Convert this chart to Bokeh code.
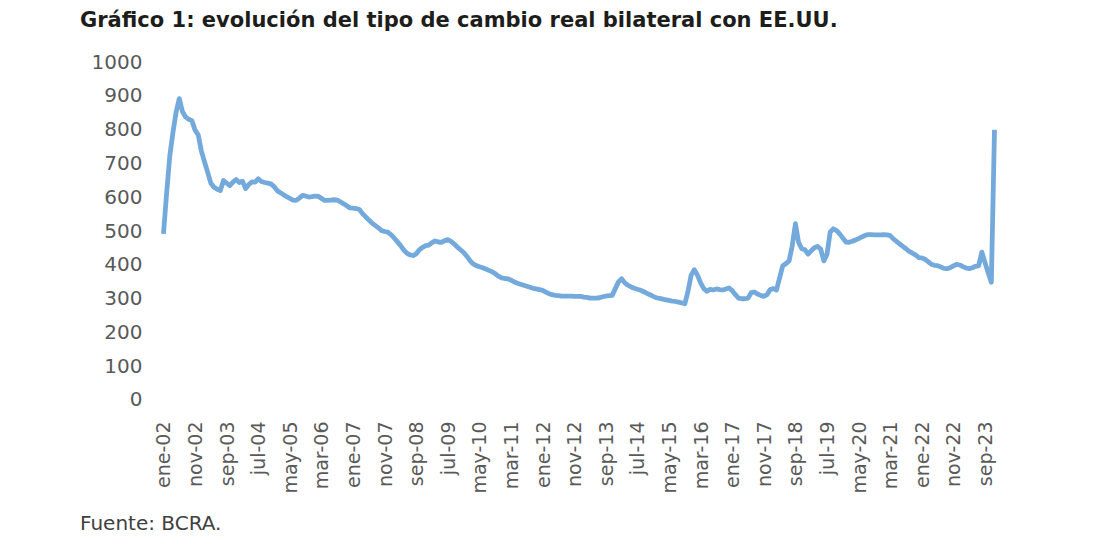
import math

from bokeh.embed import file_html
from bokeh.layouts import column
from bokeh.models import Div, FixedTicker, Range1d
from bokeh.plotting import figure
from bokeh.resources import INLINE

# tipo de cambio real bilateral con EE.UU., mensual ene-02 .. dic-23
tcrb_2002 = [490, 610, 720, 790, 850, 890, 852, 836, 829, 825, 797, 783]
tcrb_2003 = [735, 703, 672, 640, 628, 622, 618, 648, 640, 633, 643, 651]
tcrb_2004 = [642, 646, 624, 636, 644, 643, 653, 645, 642, 640, 638, 630]
tcrb_2005 = [618, 612, 606, 600, 595, 590, 589, 596, 604, 602, 599, 600]
tcrb_2006 = [602, 601, 595, 589, 589, 590, 591, 590, 585, 579, 573, 567]
tcrb_2007 = [566, 565, 562, 550, 540, 531, 522, 515, 508, 500, 497, 495]
tcrb_2008 = [488, 478, 467, 456, 443, 433, 428, 426, 431, 443, 450, 455]
tcrb_2009 = [457, 464, 469, 466, 465, 470, 473, 468, 460, 451, 443, 435]
tcrb_2010 = [424, 411, 401, 396, 393, 390, 386, 382, 378, 372, 365, 360]
tcrb_2011 = [358, 357, 353, 348, 344, 341, 338, 335, 332, 329, 327, 325]
tcrb_2012 = [323, 318, 313, 310, 308, 307, 306, 306, 306, 306, 305, 305]
tcrb_2013 = [305, 303, 302, 300, 300, 300, 301, 304, 306, 307, 308, 328]
tcrb_2014 = [348, 357, 345, 338, 333, 329, 326, 323, 319, 314, 310, 305]
tcrb_2015 = [301, 299, 297, 295, 293, 291, 290, 288, 286, 283, 320, 368]
tcrb_2016 = [384, 368, 345, 328, 320, 326, 324, 327, 325, 324, 327, 330]
tcrb_2017 = [322, 310, 300, 298, 298, 300, 316, 318, 312, 308, 305, 310]
tcrb_2018 = [325, 328, 324, 360, 396, 402, 410, 455, 520, 465, 446, 443]
tcrb_2019 = [430, 440, 449, 453, 445, 410, 430, 495, 505, 500, 490, 478]
tcrb_2020 = [466, 465, 468, 472, 476, 481, 485, 488, 488, 487, 487, 487]
tcrb_2021 = [488, 487, 485, 475, 468, 460, 453, 446, 438, 433, 428, 420]
tcrb_2022 = [419, 415, 408, 400, 397, 396, 392, 388, 387, 390, 395, 400]
tcrb_2023 = [398, 393, 389, 387, 390, 394, 396, 436, 405, 375, 347, 798]

# etiquetas del eje x, una cada 10 meses
tick_labels = ["ene-02", "nov-02", "sep-03", "jul-04", "may-05", "mar-06",
               "ene-07", "nov-07", "sep-08", "jul-09", "may-10", "mar-11",
               "ene-12", "nov-12", "sep-13", "jul-14", "may-15", "mar-16",
               "ene-17", "nov-17", "sep-18", "jul-19", "may-20", "mar-21",
               "ene-22", "nov-22", "sep-23"]
y_ticks = [0, 100, 200, 300, 400, 500, 600, 700, 800, 900, 1000]

tcrb = (tcrb_2002 + tcrb_2003 + tcrb_2004 + tcrb_2005 + tcrb_2006 + tcrb_2007
        + tcrb_2008 + tcrb_2009 + tcrb_2010 + tcrb_2011 + tcrb_2012 + tcrb_2013
        + tcrb_2014 + tcrb_2015 + tcrb_2016 + tcrb_2017 + tcrb_2018 + tcrb_2019
        + tcrb_2020 + tcrb_2021 + tcrb_2022 + tcrb_2023)
months = list(range(len(tcrb)))
x_ticks = list(range(0, 10 * len(tick_labels), 10))

FONT = "DejaVu Sans"
GREY = "#595959"

p = figure(width=1083, height=465, output_backend="svg", toolbar_location=None,
           x_range=Range1d(-4.1, 264.9), y_range=Range1d(-17.8, 1017.8),
           min_border_left=150, min_border_right=83,
           min_border_top=15, min_border_bottom=100, margin=(0, 0, 0, 0))
p.outline_line_color = None
p.grid.grid_line_color = None
p.background_fill_color = "white"
p.border_fill_color = "white"

p.line(months, tcrb, line_color="#74A9DB", line_width=4.8, line_join="round")

p.xaxis.ticker = FixedTicker(ticks=x_ticks)
p.xaxis.major_label_overrides = {t: lab for t, lab in zip(x_ticks, tick_labels)}
p.xaxis.major_label_orientation = math.pi / 2
p.yaxis.ticker = FixedTicker(ticks=y_ticks)

for ax in (p.xaxis[0], p.yaxis[0]):
    ax.axis_line_color = None
    ax.major_tick_line_color = None
    ax.minor_tick_line_color = None
    ax.major_label_text_font = FONT
    ax.major_label_text_font_size = "19px"
    ax.major_label_text_color = GREY
p.yaxis.major_label_text_font_size = "20px"
p.xaxis.major_label_standoff = 10
p.yaxis.major_label_standoff = 2

title = Div(text="Gráfico 1: evolución del tipo de cambio real bilateral con EE.UU.",
            width=1003, height=40, margin=(0, 0, 0, 80),
            styles={"font-family": FONT, "font-size": "21px", "font-weight": "bold",
                    "color": "#1d1d1b", "line-height": "40px", "white-space": "nowrap"})
footer = Div(text="Fuente: BCRA.", width=1003, height=36, margin=(0, 0, 0, 80),
             styles={"font-family": FONT, "font-size": "20px", "color": "#404040",
                     "line-height": "36px", "white-space": "nowrap"})

page = column(title, p, footer, spacing=0)
open("out.html", "w").write(file_html(page, INLINE))
